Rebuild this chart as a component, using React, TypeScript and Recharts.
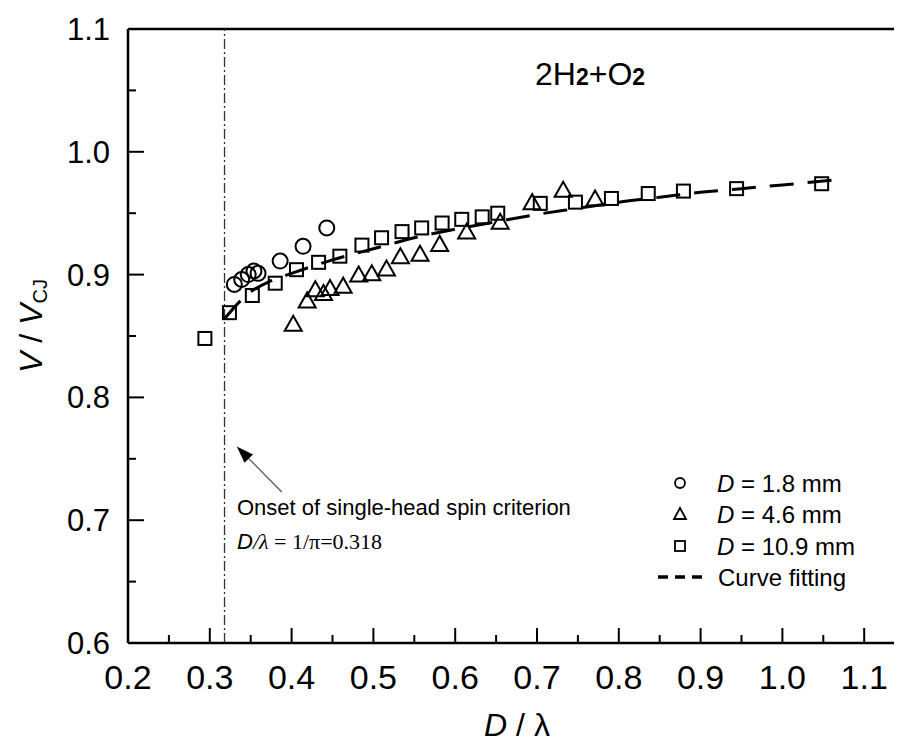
import React from "react";
import { ComposedChart, Scatter, Line, XAxis, YAxis, ReferenceLine } from "recharts";

// D = 1.8 mm
const circleX = [0.33, 0.339, 0.347, 0.354, 0.359, 0.386, 0.414, 0.443];
const circleY = [0.892, 0.896, 0.9, 0.903, 0.901, 0.911, 0.923, 0.938];

// D = 4.6 mm
const triangleX = [0.402, 0.419, 0.429, 0.439, 0.447, 0.463, 0.482, 0.498, 0.516, 0.533, 0.557, 0.581, 0.614, 0.655, 0.694, 0.732, 0.771];
const triangleY = [0.86, 0.879, 0.888, 0.885, 0.889, 0.891, 0.9, 0.901, 0.905, 0.915, 0.917, 0.925, 0.935, 0.943, 0.959, 0.969, 0.962];

// D = 10.9 mm
const squareX = [0.294, 0.324, 0.352, 0.38, 0.406, 0.433, 0.459, 0.486, 0.51, 0.535, 0.559, 0.584, 0.608, 0.633, 0.652, 0.704, 0.747, 0.791, 0.836, 0.879, 0.944, 1.048];
const squareY = [0.848, 0.869, 0.883, 0.893, 0.904, 0.91, 0.915, 0.924, 0.93, 0.935, 0.938, 0.942, 0.945, 0.947, 0.95, 0.958, 0.959, 0.962, 0.966, 0.968, 0.97, 0.974];

// curve fitting
const fitX = [0.318, 0.335, 0.35, 0.375, 0.4, 0.45, 0.5, 0.55, 0.6, 0.65, 0.7, 0.75, 0.8, 0.85, 0.9, 0.95, 1.0, 1.064];
const fitY = [0.864, 0.877, 0.886, 0.895, 0.901, 0.912, 0.921, 0.93, 0.937, 0.943, 0.949, 0.954, 0.959, 0.963, 0.967, 0.97, 0.973, 0.977];

const xTicks = [0.2, 0.25, 0.3, 0.35, 0.4, 0.45, 0.5, 0.55, 0.6, 0.65, 0.7, 0.75, 0.8, 0.85, 0.9, 0.95, 1.0, 1.05, 1.1];
const yTicks = [0.6, 0.65, 0.7, 0.75, 0.8, 0.85, 0.9, 0.95, 1.0, 1.05, 1.1];

const criterion = 0.318;
const arrowFrom = { x: 0.388, y: 0.723 };
const arrowTo = { x: 0.333, y: 0.76 };

const circles = circleX.map((x, i) => ({ x, y: circleY[i] }));
const triangles = triangleX.map((x, i) => ({ x, y: triangleY[i] }));
const squares = squareX.map((x, i) => ({ x, y: squareY[i] }));
const fit = fitX.map((x, i) => ({ x, y: fitY[i] }));

const FONT = "'Liberation Sans', Arial, sans-serif";

const isMajor = (v: number) => Math.abs(v * 10 - Math.round(v * 10)) < 1e-6;

const XTick = (props: any) => {
  const { x, y, payload } = props;
  const v = payload.value;
  const major = isMajor(v);
  return (
    <g>
      <line x1={x} x2={x} y1={y} y2={y - (major ? 15 : 8)} stroke="#000" strokeWidth={2} />
      {major && (
        <text x={x} y={y + 46} textAnchor="middle" fontSize={34} fontFamily={FONT} fill="#000">
          {v.toFixed(1)}
        </text>
      )}
    </g>
  );
};

const YTick = (props: any) => {
  const { x, y, payload } = props;
  const v = payload.value;
  const major = isMajor(v);
  return (
    <g>
      <line x1={x} x2={x + (major ? 16 : 8)} y1={y} y2={y} stroke="#000" strokeWidth={2} />
      {major && (
        <text x={x - 18} y={y + 11} textAnchor="end" fontSize={31} fontFamily={FONT} fill="#000">
          {v.toFixed(1)}
        </text>
      )}
    </g>
  );
};

const CircleMark = (p: any) => (
  <circle cx={p.cx} cy={p.cy} r={7.5} fill="none" stroke="#000" strokeWidth={2} />
);
const TriangleMark = (p: any) => (
  <polygon
    points={`${p.cx},${p.cy - 8} ${p.cx - 8.5},${p.cy + 7} ${p.cx + 8.5},${p.cy + 7}`}
    fill="none"
    stroke="#000"
    strokeWidth={2}
  />
);
const SquareMark = (p: any) => (
  <rect x={p.cx - 6.5} y={p.cy - 6.5} width={13} height={13} fill="none" stroke="#000" strokeWidth={2} />
);

const Arrow = (p: any) => {
  const { x1, y1, x2, y2 } = p;
  const a = Math.atan2(y2 - y1, x2 - x1);
  const len = 17;
  const w = 6;
  const bx = x2 - len * Math.cos(a);
  const by = y2 - len * Math.sin(a);
  const nx = -Math.sin(a) * w;
  const ny = Math.cos(a) * w;
  return (
    <g>
      <line x1={x1} y1={y1} x2={bx} y2={by} stroke="#555" strokeWidth={1.3} />
      <polygon points={`${x2},${y2} ${bx + nx},${by + ny} ${bx - nx},${by - ny}`} fill="#000" />
    </g>
  );
};

export default function App() {
  const W = 894;
  const H = 730;
  return (
    <div style={{ position: "relative", width: W, height: H }}>
      <ComposedChart width={W} height={H} margin={{ top: 21, right: 1, bottom: 35, left: 40 }}>
        <XAxis
          type="number"
          dataKey="x"
          domain={[0.2, 1.145]}
          ticks={xTicks}
          interval={0}
          tick={<XTick />}
          tickLine={false}
          tickSize={0}
          tickMargin={0}
          height={60}
          axisLine={{ stroke: "#000", strokeWidth: 2.5 }}
        />
        <YAxis
          type="number"
          dataKey="y"
          domain={[0.6, 1.1]}
          ticks={yTicks}
          interval={0}
          tick={<YTick />}
          tickLine={false}
          tickSize={0}
          tickMargin={0}
          width={80}
          axisLine={{ stroke: "#000", strokeWidth: 2.5 }}
        />
        <ReferenceLine y={1.1} stroke="#000" strokeWidth={2.5} />
        <ReferenceLine x={criterion} stroke="#333" strokeWidth={1.3} strokeDasharray="10 3 2 3" />
        <ReferenceLine segment={[arrowFrom, arrowTo]} shape={<Arrow />} />
        <Scatter data={circles} shape={<CircleMark />} isAnimationActive={false} />
        <Scatter data={triangles} shape={<TriangleMark />} isAnimationActive={false} />
        <Scatter data={squares} shape={<SquareMark />} isAnimationActive={false} />
        <Line
          data={fit}
          dataKey="y"
          type="monotone"
          dot={false}
          stroke="#000"
          strokeWidth={3}
          strokeDasharray="24 14"
          isAnimationActive={false}
        />
      </ComposedChart>
      <svg
        width={902}
        height={746}
        style={{ position: "absolute", left: -8, top: -8, pointerEvents: "none" }}
        fontFamily={FONT}
      >
        {/* axis titles */}
        <text transform="rotate(-90 42 326)" x={42} y={326} textAnchor="middle" fontSize={32} fill="#000">
          <tspan fontStyle="italic">V</tspan> / <tspan fontStyle="italic">V</tspan>
          <tspan fontSize={20} dy={5}>CJ</tspan>
        </text>
        <text x={517} y={736} textAnchor="middle" fontSize={32} fill="#000">
          <tspan fontStyle="italic">D</tspan> / λ
        </text>

        {/* mixture label */}
        <text x={535} y={85} fontSize={32} fill="#000">
          2H<tspan fontSize={23} fontWeight="bold">2</tspan>+O<tspan fontSize={23} fontWeight="bold">2</tspan>
        </text>

        {/* criterion annotation */}
        <text x={237} y={515} fontSize={22} fill="#000">
          Onset of single-head spin criterion
        </text>
        <text x={237} y={549} fontSize={22} fill="#000" fontFamily="'Liberation Serif', 'Times New Roman', serif">
          <tspan fontStyle="italic" fontFamily={FONT}>D</tspan>
          <tspan fontStyle="italic">/λ</tspan> = 1/π=0.318
        </text>

        {/* legend */}
        <circle cx={680} cy={483} r={5} fill="none" stroke="#000" strokeWidth={1.8} />
        <text x={717} y={491.5} fontSize={24} fill="#000">
          <tspan fontStyle="italic">D</tspan> = 1.8 mm
        </text>
        <polygon points="680,508 674,519 686,519" fill="none" stroke="#000" strokeWidth={1.8} />
        <text x={717} y={522.5} fontSize={24} fill="#000">
          <tspan fontStyle="italic">D</tspan> = 4.6 mm
        </text>
        <rect x={675} y={541} width={10} height={10} fill="none" stroke="#000" strokeWidth={1.8} />
        <text x={717} y={554.5} fontSize={24} fill="#000">
          <tspan fontStyle="italic">D</tspan> = 10.9 mm
        </text>
        <line x1={658} x2={702} y1={577} y2={577} stroke="#000" strokeWidth={3.5} strokeDasharray="10 7" />
        <text x={718} y={585.5} fontSize={24} fill="#000">
          Curve fitting
        </text>
      </svg>
    </div>
  );
}
